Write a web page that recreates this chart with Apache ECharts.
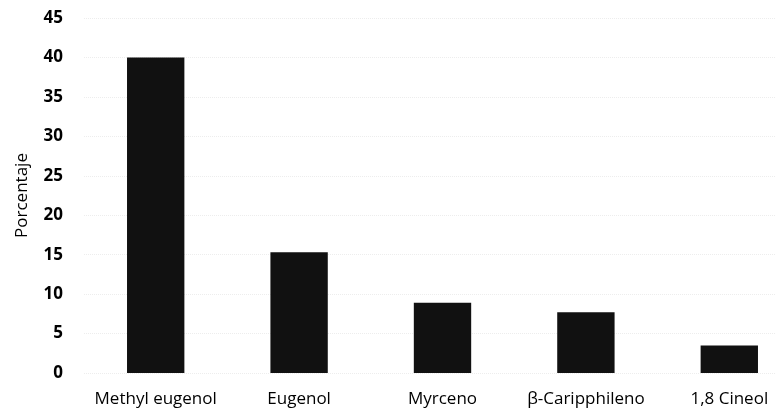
<!DOCTYPE html>
<html>
<head>
<meta charset="utf-8">
<script src="https://cdn.jsdelivr.net/npm/echarts@6/dist/echarts.min.js"></script>
<style>
html,body{margin:0;padding:0;background:#fff;overflow:hidden;width:776px;height:418px;}
#c{width:801px;height:418px;}
</style>
</head>
<body>
<div id="c"></div>
<script>
const categories = ["Methyl eugenol", "Eugenol", "Myrceno", "β-Caripphileno", "1,8 Cineol"];
const values = [40, 15.3, 8.9, 7.7, 3.5];
const yAxisName = "Porcentaje";

const chart = echarts.init(document.getElementById('c'));
chart.setOption({
  animation: false,
  backgroundColor: '#fff',
  grid: { left: 84, top: 18, right: 0, bottom: 45, containLabel: false },
  xAxis: {
    type: 'category',
    data: categories,
    axisLine: { show: false },
    axisTick: { show: false },
    axisLabel: { interval: 0, color: '#000', fontFamily: 'Open Sans', fontSize: 17, margin: 18 }
  },
  yAxis: {
    type: 'value',
    min: 0, max: 45, interval: 5,
    name: yAxisName,
    nameLocation: 'middle',
    nameGap: 53,
    nameTextStyle: { color: '#000', fontFamily: 'Open Sans', fontSize: 17 },
    axisLine: { show: false },
    axisTick: { show: false },
    splitLine: { show: true, lineStyle: { color: '#ededed', type: 'dotted', width: 1 } },
    axisLabel: { color: '#000', fontFamily: 'Open Sans', fontWeight: 'bold', fontSize: 17, margin: 21 }
  },
  series: [{
    type: 'bar',
    data: values,
    barWidth: '40%',
    itemStyle: { color: '#111' }
  }]
});
</script>
</body>
</html>
